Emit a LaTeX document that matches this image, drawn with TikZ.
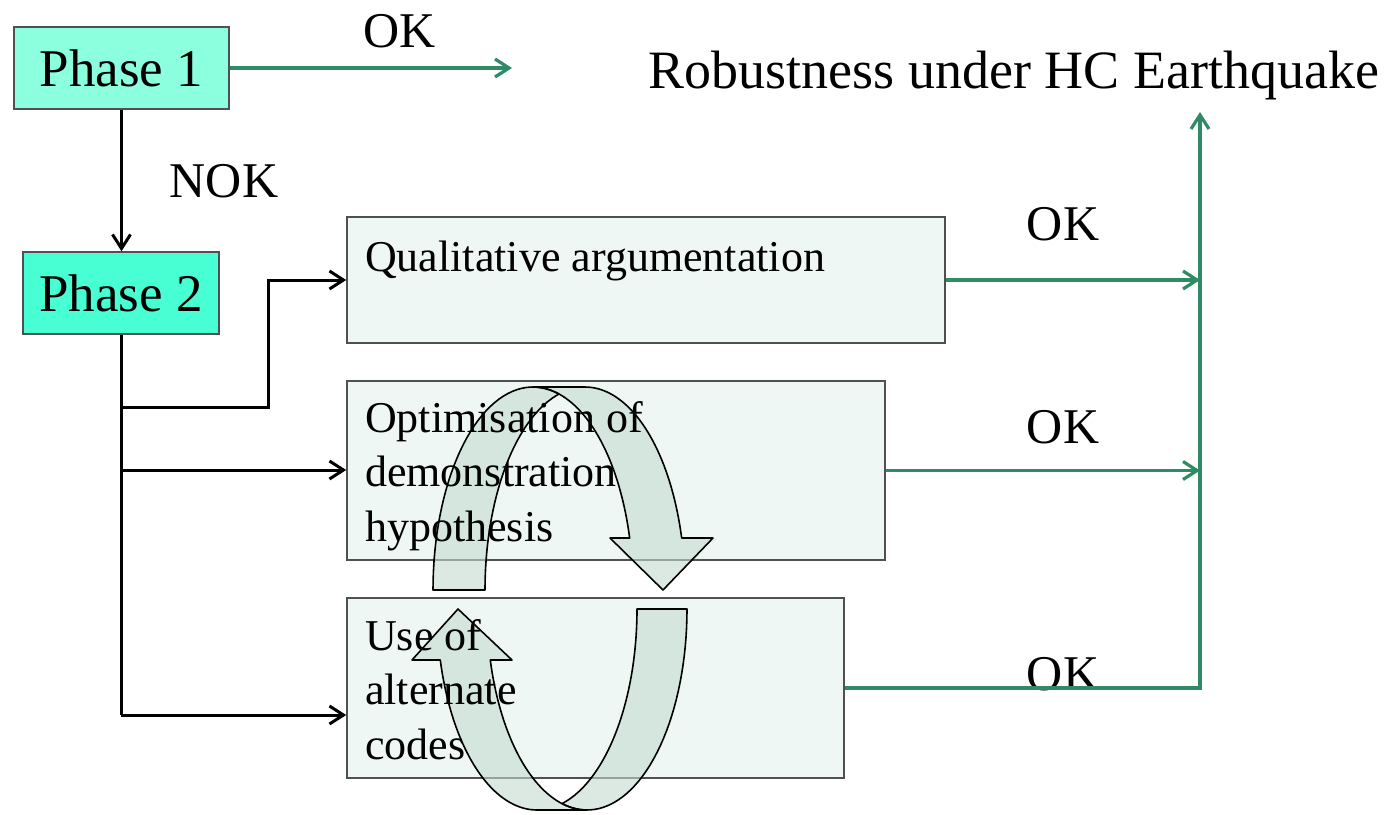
\documentclass[tikz,border=0pt]{standalone}
\usepackage{fontspec}
\setmainfont{Liberation Serif}
\usetikzlibrary{arrows.meta}
\definecolor{okgreen}{RGB}{46,139,102}
\definecolor{phaseone}{RGB}{139,255,222}
\definecolor{phasetwo}{RGB}{72,255,212}
\definecolor{boxfill}{RGB}{238,247,243}
\definecolor{boxline}{RGB}{80,80,80}
\definecolor{arrowfill}{RGB}{196,219,209}
\tikzset{
  phasebox/.style={draw=boxline, line width=1.5pt, inner sep=0pt,
    font=\fontsize{53}{60}\selectfont},
  bigbox/.style={draw=boxline, line width=1.5pt, fill=boxfill, inner sep=0pt},
  boxtext/.style={inner sep=0pt, align=left, font=\fontsize{44}{54.5}\selectfont},
  lbl/.style={inner sep=0pt, font=\fontsize{50}{60}\selectfont},
  blk/.style={draw=black, line width=3pt, -{Straight Barb[length=14pt,width=18pt]}},
  blkline/.style={draw=black, line width=3pt},
  grn/.style={draw=okgreen, line width=3.2pt, -{Straight Barb[length=14pt,width=18pt]}},
  curvfill/.style={fill=arrowfill, fill opacity=0.6},
  curvline/.style={draw=black, line width=1.6pt, line join=round},
}
\newcommand\upTail{plot[domain=180:74.9, samples=40, variable=\t] ({533+100*cos(\t)},{590-203*sin(\t)})
  -- plot[domain=105.1:180, samples=40, variable=\t] ({585+100*cos(\t)},{590-203*sin(\t)}) -- cycle}
\newcommand\upHead{plot[domain=90:14.84, samples=40, variable=\t] ({533+100*cos(\t)},{590-203*sin(\t)})
  -- (610,538) -- (663,590) -- (713,538)
  -- plot[domain=14.84:90, samples=40, variable=\t] ({585+100*cos(\t)},{590-203*sin(\t)}) -- cycle}
\newcommand\loTail{plot[domain=0:104.5, samples=40, variable=\t] ({587+100*cos(\t)},{609+201*sin(\t)})
  -- plot[domain=75.5:0, samples=40, variable=\t] ({537+100*cos(\t)},{609+201*sin(\t)}) -- cycle}
\newcommand\loHead{plot[domain=165.3:90, samples=40, variable=\t] ({537+100*cos(\t)},{609+201*sin(\t)})
  -- plot[domain=90:165.3, samples=40, variable=\t] ({587+100*cos(\t)},{609+201*sin(\t)})
  -- (512,660) -- (458,609) -- (412,660) -- cycle}
\begin{document}
\begin{tikzpicture}[x=1pt, y=-1pt]
\useasboundingbox (0,0) rectangle (1386,814);

% phase boxes
\node[phasebox, fill=phaseone, minimum width=215pt, minimum height=82pt] (p1) at (121.5,68) {Phase 1};
\node[phasebox, fill=phasetwo, minimum width=196pt, minimum height=82pt] (p2) at (121,293) {Phase 2};

% big boxes
\node[bigbox, minimum width=598pt, minimum height=126pt] (qbox) at (646,280) {};
\node[bigbox, minimum width=538pt, minimum height=179pt] (obox) at (616,470.5) {};
\node[bigbox, minimum width=497pt, minimum height=180pt] (ubox) at (595.5,688) {};

% curved arrow fills
\path[curvfill] \upTail;
\path[curvfill] \upHead;
\path[curvfill] \loTail;
\path[curvfill] \loHead;

\node[boxtext, anchor=base west] (qtext) at (365,271) {Qualitative argumentation};
\node[boxtext, anchor=north west] (otext) at (365,401) {Optimisation of\\demonstration\\hypothesis};
\node[boxtext, anchor=north west] (utext) at (365,619) {Use of\\alternate\\codes};

% curved arrow outlines
\path[curvline] \upTail;
\path[curvline] \upHead;
\path[curvline] \loTail;
\path[curvline] \loHead;

% labels
\node[lbl, anchor=base] (ok0) at (400,47) {OK};
\node[lbl, anchor=base] (nok) at (224,197) {NOK};
\node[lbl, anchor=base] (ok1) at (1063,240) {OK};
\node[lbl, anchor=base] (ok2) at (1063,443) {OK};
\node[lbl, anchor=base] (ok3) at (1063,690) {OK};
\node[inner sep=0pt, anchor=base, font=\fontsize{54}{60}\selectfont] (rob) at (1014,88) {Robustness under HC Earthquake};

% coordinates
\coordinate (okend) at (512,68);
\coordinate (trunkend) at (121,715);
\coordinate (b1) at (121,407);
\coordinate (k1) at (268,407);
\coordinate (b2) at (121,470);
\coordinate (b3) at (121,715);
\coordinate (col) at (1200,400);
\coordinate (coltop) at (1200,112);

% black connectors
\draw[blk] (p1.south) -- (p1.south |- p2.north);
\draw[blkline] (p2.south) -- (trunkend);
\draw[blk] (b1) -- (k1) |- (qbox.west);
\draw[blk] (b2) -- (b2 -| obox.west);
\draw[blk] (b3) -- (b3 -| ubox.west);

% green connectors
\draw[grn] (p1.east) -- (okend);
\draw[grn] (qbox.east) -- (qbox.east -| col);
\draw[grn] (obox.east) -- (obox.east -| col);
\draw[grn] (ubox.east) -| (coltop);
\end{tikzpicture}
\end{document}
